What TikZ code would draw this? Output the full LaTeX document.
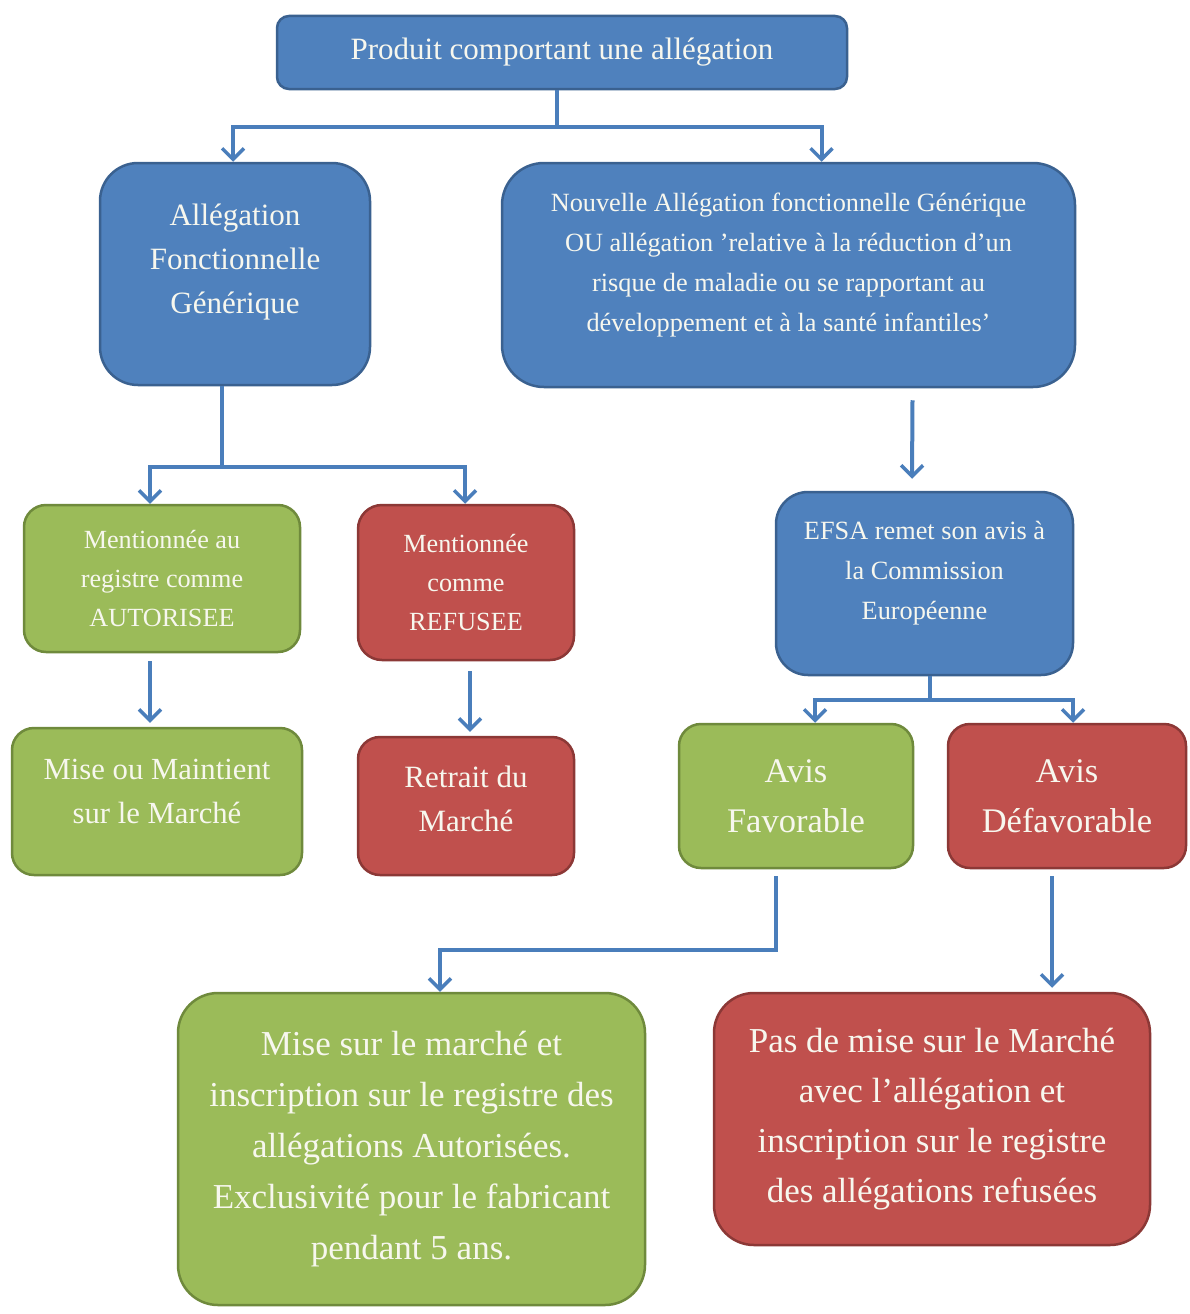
\documentclass[tikz,border=0pt]{standalone}
\usepackage{fontspec}
\setmainfont{Liberation Serif}
\usetikzlibrary{arrows.meta,calc}
\definecolor{bfill}{HTML}{4F81BD}
\definecolor{bline}{HTML}{3A6190}
\definecolor{gfill}{HTML}{9BBB59}
\definecolor{gline}{HTML}{6F8A3C}
\definecolor{rfill}{HTML}{C0504D}
\definecolor{rline}{HTML}{8C3836}
\definecolor{arrcol}{HTML}{4A7EBB}
\definecolor{txtcol}{HTML}{F7F7EE}
\tikzset{
  box/.style={line width=2.5pt, inner sep=0pt, text=txtcol, align=center},
  bluebox/.style={box, fill=bfill, draw=bline},
  greenbox/.style={box, fill=gfill, draw=gline},
  redbox/.style={box, fill=rfill, draw=rline},
  txt/.style={text=txtcol, align=center, inner sep=0pt},
  conn/.style={draw=arrcol, line width=4pt},
  arr/.style={conn, -{Straight Barb[length=11pt,width=22pt,line width=3.5pt]}},
}
\begin{document}
\begin{tikzpicture}[x=1pt,y=-1pt]
\useasboundingbox (0,0) rectangle (1189,1314);
\fill[white] (0,0) rectangle (1189,1314);

% boxes
\node[bluebox, rounded corners=12pt, minimum width=570pt, minimum height=73pt,
      font=\fontsize{31}{40}\selectfont] (top) at (562,52.5) {Produit comportant une allégation};

\node[bluebox, rounded corners=38pt, minimum width=270pt, minimum height=222pt] (lb) at (235,274) {};
\node[txt, font=\fontsize{31}{44}\selectfont] (lbt) at (235,262) {Allégation\\Fonctionnelle\\Générique};

\node[bluebox, rounded corners=42pt, minimum width=573pt, minimum height=224pt] (rb) at (788.5,275) {};
\node[txt, font=\fontsize{26.3}{40}\selectfont] (rbt) at (788.5,265) {Nouvelle Allégation fonctionnelle Générique\\OU allégation ’relative à la réduction d’un\\risque de maladie ou se rapportant au\\développement et à la santé infantiles’};

\node[bluebox, rounded corners=32pt, minimum width=297pt, minimum height=183pt] (efsa) at (924.5,583.5) {};
\node[txt, font=\fontsize{26.3}{40}\selectfont] (efsat) at (924.5,573) {EFSA remet son avis à\\la Commission\\Européenne};

\node[greenbox, rounded corners=22pt, minimum width=276pt, minimum height=147pt,
      font=\fontsize{26.2}{39}\selectfont] (g1) at (162,578.5) {Mentionnée au\\registre comme\\AUTORISEE};

\node[redbox, rounded corners=24pt, minimum width=216pt, minimum height=155pt,
      font=\fontsize{26.2}{39}\selectfont] (r1) at (466,582.5) {Mentionnée\\comme\\REFUSEE};

\node[greenbox, rounded corners=22pt, minimum width=290pt, minimum height=147pt] (m1) at (157,801.5) {};
\node[txt, font=\fontsize{30.7}{44}\selectfont] (m1t) at (157,791) {Mise ou Maintient\\sur le Marché};

\node[redbox, rounded corners=22pt, minimum width=216pt, minimum height=138pt] (r2) at (466,806) {};
\node[txt, font=\fontsize{31}{44}\selectfont] (r2t) at (466,799) {Retrait du\\Marché};

\node[greenbox, rounded corners=22pt, minimum width=234pt, minimum height=144pt,
      font=\fontsize{34.5}{50}\selectfont] (fav) at (796,796) {Avis\\Favorable};

\node[redbox, rounded corners=22pt, minimum width=238pt, minimum height=144pt,
      font=\fontsize{34.5}{50}\selectfont] (def) at (1067,796) {Avis\\Défavorable};

\node[greenbox, rounded corners=40pt, minimum width=467pt, minimum height=312pt,
      font=\fontsize{35}{51}\selectfont] (bg) at (411.5,1149) {Mise sur le marché et\\inscription sur le registre des\\allégations Autorisées.\\Exclusivité pour le fabricant\\pendant 5 ans.};

\node[redbox, rounded corners=40pt, minimum width=436pt, minimum height=252pt,
      font=\fontsize{35}{50}\selectfont] (br) at (932,1119) {Pas de mise sur le Marché\\avec l’allégation et\\inscription sur le registre\\des allégations refusées};

% connectors
\coordinate (j1) at (557,127);
\draw[conn] (j1 |- top.south) -- (j1);
\draw[arr] (j1) -| ([xshift=-2pt]lb.north);
\draw[arr] (j1) -| ([xshift=33pt]rb.north);

\coordinate (j2) at (222,467);
\draw[conn] (j2 |- lb.south) -- (j2);
\draw[arr] (j2) -| ([xshift=-12pt]g1.north);
\draw[arr] (j2) -| ([xshift=-1pt]r1.north);

\draw[arr] ([xshift=124pt,yshift=-12pt]rb.south) -- ([xshift=-12.5pt,yshift=12pt]efsa.north);

\coordinate (j4) at (930,700);
\draw[conn] (j4 |- efsa.south) -- (j4);
\draw[arr] (j4) -| ([xshift=19pt]fav.north);
\draw[arr] (j4) -| ([xshift=6pt]def.north);

\draw[arr] ([xshift=-12pt,yshift=-8pt]g1.south) -- ([xshift=-7pt,yshift=4pt]m1.north);
\draw[arr] ([xshift=4pt,yshift=-10pt]r1.south) -- ([xshift=4pt,yshift=4pt]r2.north);

\coordinate (j7) at (776,950);
\draw[arr] ([xshift=-20pt,yshift=-7pt]fav.south) -- (j7) -| ([xshift=28.5pt]bg.north);
\draw[arr] ([xshift=-15pt,yshift=-7pt]def.south) -- ([xshift=120pt,yshift=4pt]br.north);
\end{tikzpicture}
\end{document}
